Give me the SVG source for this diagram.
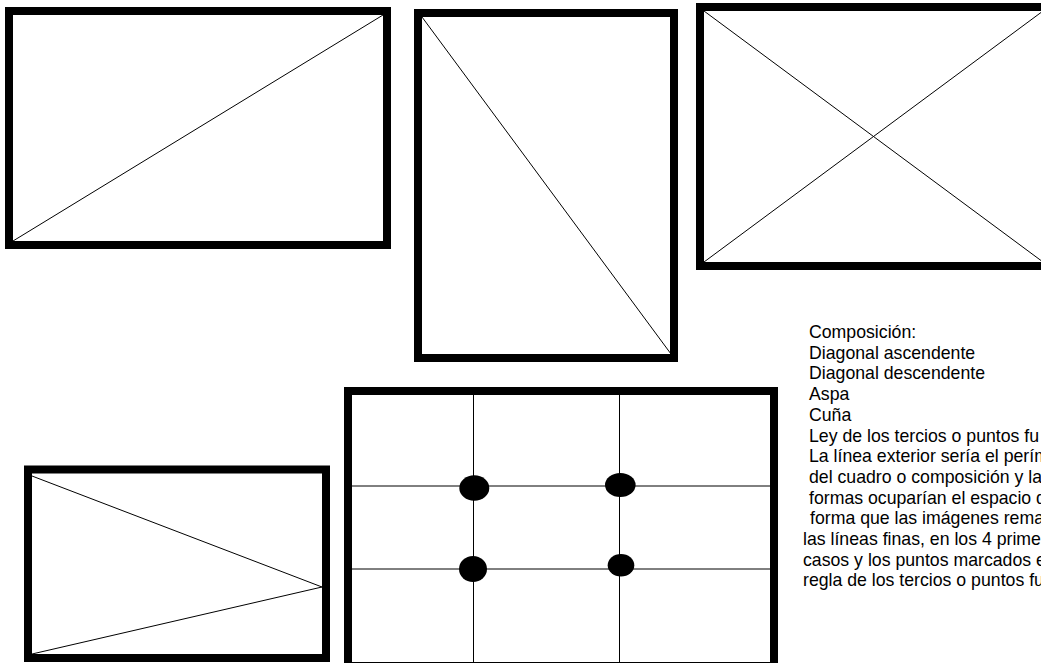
<svg xmlns="http://www.w3.org/2000/svg" width="1041" height="663" viewBox="0 0 1041 663">
<style>
.frame{fill:#fff;stroke:#000;stroke-width:8}
.thin{stroke:#000;stroke-width:1;fill:none}
.dot{fill:#000}
.txt{font-family:"Liberation Sans",Arial,sans-serif;font-size:17.7px;fill:#000}
</style>
<rect width="1041" height="663" fill="#fff"/>
<g id="diagonal-ascendente">
<rect class="frame" x="9" y="11" width="378" height="234"/>
<line class="thin" x1="13" y1="241" x2="383" y2="15"/>
</g>
<g id="diagonal-descendente">
<rect class="frame" x="418" y="13" width="256" height="345"/>
<line class="thin" x1="422" y1="17" x2="671" y2="354"/>
</g>
<g id="aspa">
<rect class="frame" x="700" y="7" width="347" height="259"/>
<line class="thin" x1="704" y1="11" x2="1043" y2="262"/>
<line class="thin" x1="704" y1="262" x2="1043" y2="11"/>
</g>
<g id="cuna">
<rect class="frame" x="28" y="469.5" width="298" height="188.5"/>
<line class="thin" x1="32" y1="476" x2="322" y2="587"/>
<line class="thin" x1="32" y1="654" x2="322" y2="587"/>
</g>
<g id="tercios">
<rect class="frame" x="348" y="391" width="426" height="275"/>
<line class="thin" x1="473.5" y1="395" x2="473.5" y2="663"/>
<line class="thin" x1="619.5" y1="395" x2="619.5" y2="663"/>
<line class="thin" x1="352" y1="486" x2="771" y2="486"/>
<line class="thin" x1="352" y1="569" x2="771" y2="569"/>
<ellipse class="dot" cx="474.3" cy="488" rx="15" ry="12.7"/>
<ellipse class="dot" cx="620.3" cy="485" rx="15.3" ry="12"/>
<ellipse class="dot" cx="473" cy="569" rx="14" ry="13"/>
<ellipse class="dot" cx="621" cy="565.3" rx="13.3" ry="11.3"/>
</g>
<g id="texto" class="txt">
<text x="809" y="338">Composición:</text>
<text x="809" y="358.7">Diagonal ascendente</text>
<text x="809" y="379.4">Diagonal descendente</text>
<text x="809" y="400.1">Aspa</text>
<text x="809" y="420.8">Cuña</text>
<text x="809" y="441.5">Ley de los tercios o puntos fu</text>
<text x="809" y="462.2">La línea exterior sería el perím</text>
<text x="809" y="482.9">del cuadro o composición y la</text>
<text x="809" y="503.6">formas ocuparían el espacio d</text>
<text x="810" y="524.3">forma que las imágenes rema</text>
<text x="803" y="545">las líneas finas, en los 4 prime</text>
<text x="803" y="565.7">casos y los puntos marcados e</text>
<text x="803" y="586.4">regla de los tercios o puntos fu</text>
</g>
</svg>
